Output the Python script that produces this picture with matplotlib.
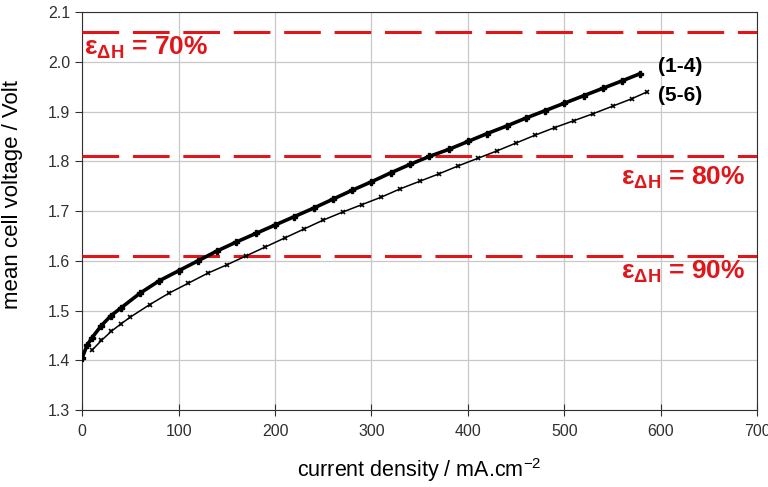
import matplotlib
matplotlib.use("Agg")
import matplotlib.pyplot as plt

# stack (1-4): current density (mA/cm2) and mean cell voltage (V)
j_14 = [0, 5, 10, 20, 30, 40, 60, 80, 100, 120, 140, 160, 180, 200, 220, 240,
        260, 280, 300, 320, 340, 360, 380, 400, 420, 440, 460, 480, 500, 520,
        540, 560, 578]
v_14 = [1.405, 1.430, 1.445, 1.470, 1.490, 1.505, 1.535, 1.560, 1.580, 1.600,
        1.620, 1.638, 1.655, 1.672, 1.689, 1.706, 1.724, 1.742, 1.759, 1.777,
        1.794, 1.810, 1.824, 1.840, 1.856, 1.871, 1.887, 1.902, 1.917, 1.932,
        1.947, 1.962, 1.976]

# stack (5-6)
j_56 = [10, 20, 30, 40, 50, 70, 90, 110, 130, 150, 170, 190, 210, 230, 250,
        270, 290, 310, 330, 350, 370, 390, 410, 430, 450, 470, 490, 510, 530,
        550, 570, 586]
v_56 = [1.420, 1.440, 1.458, 1.473, 1.487, 1.512, 1.535, 1.555, 1.575, 1.592,
        1.610, 1.628, 1.646, 1.664, 1.682, 1.698, 1.713, 1.728, 1.745, 1.760,
        1.775, 1.791, 1.806, 1.821, 1.837, 1.853, 1.868, 1.882, 1.896, 1.911,
        1.926, 1.940]

# efficiency reference lines (V) and their labels
eff_levels = [2.06, 1.81, 1.61]
eff_labels = ["70%", "80%", "90%"]
stack_labels = ["(1-4)", "(5-6)"]

plt.rcParams["font.family"] = ["Liberation Sans", "DejaVu Sans"]
plt.rcParams["mathtext.fontset"] = "custom"
plt.rcParams["mathtext.rm"] = "Liberation Sans"
plt.rcParams["mathtext.it"] = "Liberation Sans:italic"
plt.rcParams["mathtext.bf"] = "Liberation Sans:bold"

fig = plt.figure(figsize=(7.68, 4.87), dpi=100)
ax = fig.add_axes([0.107, 0.158, 0.879, 0.817])

ax.grid(True, color="#c8c8c8", linewidth=0.9)
ax.set_axisbelow(True)

red = "#e0161a"
for lvl in eff_levels:
    line, = ax.plot([0, 700], [lvl, lvl], color=red, linewidth=2.2, zorder=3)
    line.set_dashes([12, 4.5])

ax.plot(j_14, v_14, color="black", linewidth=2.6, marker="P", markersize=4,
        zorder=4)
ax.plot(j_56, v_56, color="black", linewidth=1.1, marker="x", markersize=3.5,
        markeredgewidth=1.2, zorder=4)

ax.text(597, 1.99, stack_labels[0], fontsize=15, fontweight="bold",
        va="center", ha="left")
ax.text(597, 1.933, stack_labels[1], fontsize=15, fontweight="bold",
        va="center", ha="left")

eps = r"$\mathbf{\epsilon_{\Delta H}}$"
ax.text(2, 2.028, eps + " = " + eff_labels[0], color=red, fontsize=19,
        fontweight="bold", va="center", ha="left", zorder=5)
ax.text(688, 1.766, eps + " = " + eff_labels[1], color=red, fontsize=19,
        fontweight="bold", va="center", ha="right", zorder=5)
ax.text(688, 1.577, eps + " = " + eff_labels[2], color=red, fontsize=19,
        fontweight="bold", va="center", ha="right", zorder=5)

ax.set_xlim(0, 700)
ax.set_ylim(1.3, 2.1)
ax.set_xticks(range(0, 701, 100))
ax.set_yticks([1.3, 1.4, 1.5, 1.6, 1.7, 1.8, 1.9, 2.0, 2.1])
ax.set_yticklabels([f"{v:.1f}" for v in ax.get_yticks()])
ax.tick_params(axis="x", direction="inout", length=8, labelsize=11.5, pad=6,
               colors="#303030")
ax.tick_params(axis="y", direction="out", length=5, labelsize=11.5,
               colors="#303030")
for s in ax.spines.values():
    s.set_color("#303030")

ax.set_xlabel("current density / mA.cm$^{-2}$", fontsize=15.5, labelpad=12)
ax.set_ylabel("mean cell voltage / Volt", fontsize=16)
ax.yaxis.set_label_coords(-0.087, 0.543)

fig.savefig("out.png", dpi=100)
